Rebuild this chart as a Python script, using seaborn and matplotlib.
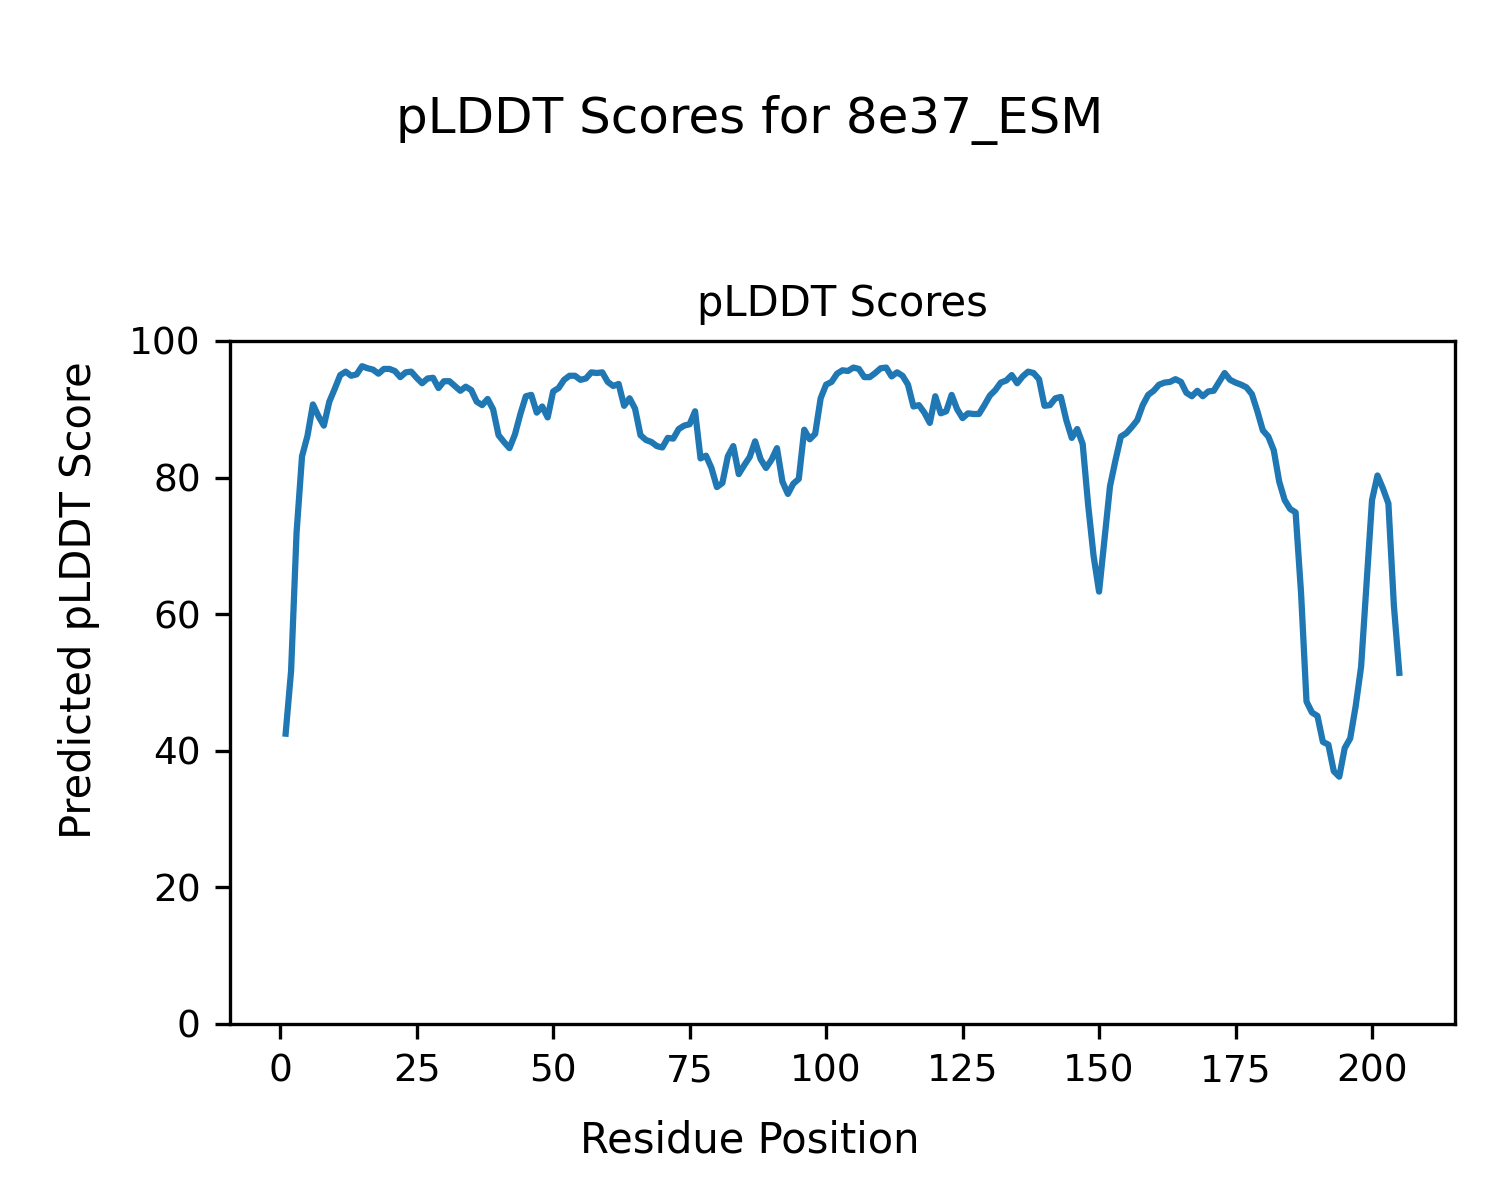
import numpy as np
import pandas as pd
import seaborn as sns
import matplotlib
matplotlib.use('Agg')
import matplotlib.pyplot as plt

plt.rcParams['font.family'] = ['DejaVu Sans']

protein_name = '8e37_ESM'

# pLDDT per residue (residues 1..205)
plddt_scores = [
    42.5, 51.7, 71.9, 83.1, 86.1, 90.7, 89.0, 87.6, 91.1, 93.0,
    95.0, 95.5, 94.9, 95.1, 96.3, 96.0, 95.8, 95.2, 95.9, 95.9,
    95.6, 94.7, 95.4, 95.5, 94.6, 93.8, 94.5, 94.6, 93.1, 94.1,
    94.1, 93.4, 92.7, 93.3, 92.8, 91.1, 90.6, 91.5, 90.0, 86.2,
    85.2, 84.3, 86.3, 89.3, 91.9, 92.1, 89.5, 90.4, 88.8, 92.6,
    93.1, 94.3, 94.9, 94.9, 94.3, 94.5, 95.4, 95.3, 95.4, 94.0,
    93.4, 93.7, 90.5, 91.6, 90.1, 86.2, 85.5, 85.2, 84.6, 84.4,
    85.8, 85.7, 87.1, 87.6, 87.8, 89.7, 82.8, 83.2, 81.4, 78.6,
    79.2, 83.1, 84.6, 80.5, 81.8, 83.0, 85.3, 82.7, 81.4, 82.6,
    84.3, 79.4, 77.6, 79.1, 79.8, 87.0, 85.6, 86.4, 91.6, 93.6,
    94.0, 95.2, 95.7, 95.6, 96.1, 95.9, 94.7, 94.7, 95.3, 96.0,
    96.1, 94.8, 95.4, 94.9, 93.6, 90.4, 90.6, 89.5, 88.0, 91.9,
    89.4, 89.7, 92.1, 90.0, 88.7, 89.4, 89.3, 89.3, 90.6, 92.0,
    92.8, 93.9, 94.2, 95.0, 93.8, 94.8, 95.5, 95.3, 94.4, 90.5,
    90.6, 91.6, 91.8, 88.4, 85.8, 87.1, 84.9, 76.0, 68.5, 63.3,
    71.0, 78.7, 82.5, 86.0, 86.5, 87.4, 88.4, 90.6, 92.1, 92.7,
    93.6, 93.9, 94.0, 94.4, 94.0, 92.4, 91.9, 92.7, 91.9, 92.6,
    92.7, 94.0, 95.3, 94.3, 93.9, 93.6, 93.2, 92.2, 89.7, 86.9,
    86.0, 84.0, 79.4, 76.7, 75.4, 74.9, 63.1, 47.2, 45.6, 45.1,
    41.3, 40.9, 37.0, 36.2, 40.4, 41.8, 46.5, 52.3, 64.5, 76.7,
    80.3, 78.4, 76.2, 61.3, 51.4,
]
residue_positions = list(range(1, len(plddt_scores) + 1))

df = pd.DataFrame({'residue': residue_positions, 'plddt': plddt_scores})

fig = plt.figure(figsize=(5, 4), dpi=300)
ax = fig.add_axes([0.1533, 0.1467, 0.8167, 0.5692])

sns.lineplot(data=df, x='residue', y='plddt', ax=ax, color='#1f77b4', linewidth=1.5)

ax.set_ylim(0, 100)
ax.set_title('pLDDT Scores', fontsize=10)
ax.set_xlabel('')
ax.set_ylabel('')
ax.tick_params(labelsize=9)

fig.suptitle(f'pLDDT Scores for {protein_name}', fontsize=12, y=0.921, va='top')
fig.supxlabel('Residue Position', fontsize=10, x=0.5, y=0.0392, va='baseline')
fig.supylabel('Predicted pLDDT Score', fontsize=10, x=0.0527, y=0.5, ha='center', va='center')

fig.savefig('out.png', dpi=300)
